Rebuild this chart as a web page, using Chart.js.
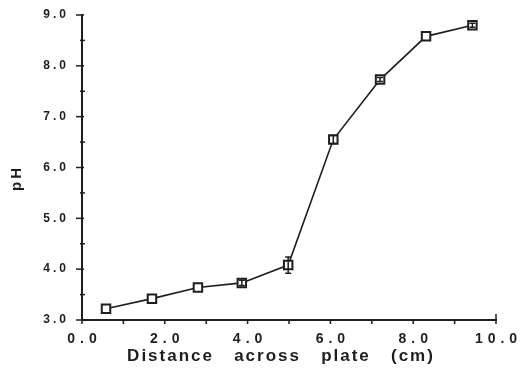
<!DOCTYPE html>
<html>
<head>
<meta charset="utf-8">
<script src="https://cdn.jsdelivr.net/npm/chart.js@4/dist/chart.umd.min.js"></script>
<style>
  html, body { margin: 0; padding: 0; background: #fff; }
  #wrap { width: 520px; height: 376px; }
</style>
</head>
<body>
<div id="wrap"><canvas id="c" width="520" height="376"></canvas></div>
<script>
// ---- data ----
const distanceCm = [0.58, 1.69, 2.8, 3.86, 4.98, 6.07, 7.2, 8.31, 9.43];
const phValues   = [3.22, 3.42, 3.64, 3.73, 4.08, 6.55, 7.73, 8.58, 8.8];
const phErrors   = [0, 0, 0, 0.05, 0.16, 0.08, 0.04, 0, 0.04];
const xTickValues = [0, 2, 4, 6, 8, 10];
const xTickLabels = ['0.0', '2.0', '4.0', '6.0', '8.0', '10.0'];
const yTickValues = [3, 4, 5, 6, 7, 8, 9];
const yTickLabels = ['3.0', '4.0', '5.0', '6.0', '7.0', '8.0', '9.0'];
const xTitle = 'Distance   across   plate   (cm)';
const yTitle = 'pH';

const INK = '#1e1e1e';

const axisDecor = {
  id: 'axisDecor',
  afterDatasetsDraw(chart) {
    const ctx = chart.ctx;
    const xs = chart.scales.x, ys = chart.scales.y;
    const ca = chart.chartArea;
    ctx.save();
    ctx.strokeStyle = INK;
    ctx.fillStyle = INK;

    // error bars
    ctx.lineWidth = 1.5;
    distanceCm.forEach((d, i) => {
      const e = phErrors[i];
      if (!e) return;
      const px = xs.getPixelForValue(d);
      const y1 = ys.getPixelForValue(phValues[i] + e);
      const y2 = ys.getPixelForValue(phValues[i] - e);
      ctx.beginPath();
      ctx.moveTo(px, y1); ctx.lineTo(px, y2);
      ctx.moveTo(px - 3, y1); ctx.lineTo(px + 3, y1);
      ctx.moveTo(px - 3, y2); ctx.lineTo(px + 3, y2);
      ctx.stroke();
    });

    // y ticks: majors outward, minors both sides
    ctx.lineWidth = 1.5;
    for (let v = 3; v <= 9.001; v += 0.5) {
      const py = ys.getPixelForValue(v);
      ctx.beginPath();
      if (Math.abs(v - Math.round(v)) < 1e-6) {
        ctx.moveTo(ca.left - 6, py); ctx.lineTo(ca.left + 2, py);
      } else {
        ctx.moveTo(ca.left - 2, py); ctx.lineTo(ca.left + 3, py);
      }
      ctx.stroke();
    }
    // x ticks
    for (let v = 0; v <= 10.001; v += 1) {
      const px = xs.getPixelForValue(v);
      ctx.beginPath();
      if (v === 10) { ctx.moveTo(px, ca.bottom - 6); ctx.lineTo(px, ca.bottom + 4); }
      else { ctx.moveTo(px, ca.bottom); ctx.lineTo(px, ca.bottom + 4); }
      ctx.stroke();
    }

    // x tick labels
    ctx.font = 'bold 14px "Liberation Sans", Arial, sans-serif';
    ctx.textAlign = 'center';
    ctx.textBaseline = 'middle';
    ctx.letterSpacing = '5px';
    xTickValues.forEach((v, i) => {
      ctx.fillText(xTickLabels[i], xs.getPixelForValue(v) + 2.5, ca.bottom + 19);
    });

    // y tick labels
    ctx.font = 'bold 12px "Liberation Sans", Arial, sans-serif';
    ctx.textAlign = 'right';
    ctx.letterSpacing = '3px';
    yTickValues.forEach((v, i) => {
      ctx.fillText(yTickLabels[i], ca.left - 13, ys.getPixelForValue(v));
    });

    // x title
    ctx.font = 'bold 17px "Liberation Sans", Arial, sans-serif';
    ctx.textAlign = 'center';
    ctx.letterSpacing = '2px';
    ctx.fillText(xTitle, (ca.left + ca.right) / 2 - 8, ca.bottom + 36);

    // y title
    ctx.translate(17, (ca.top + ca.bottom) / 2 + 12);
    ctx.rotate(-Math.PI / 2);
    ctx.font = 'bold 15px "Liberation Sans", Arial, sans-serif';
    ctx.letterSpacing = '3px';
    ctx.fillText(yTitle, 1.5, 0);
    ctx.restore();
  }
};

new Chart(document.getElementById('c'), {
  type: 'line',
  data: {
    datasets: [{
      data: distanceCm.map((d, i) => ({ x: d, y: phValues[i] })),
      borderColor: INK,
      borderWidth: 1.6,
      pointStyle: 'rect',
      pointRadius: 6,
      pointBorderWidth: 2,
      pointBackgroundColor: '#fff',
      pointBorderColor: INK,
      tension: 0
    }]
  },
  options: {
    responsive: false,
    animation: false,
    layout: { padding: { top: 15, right: 24, left: 0, bottom: 0 } },
    plugins: { legend: { display: false }, tooltip: { enabled: false } },
    scales: {
      x: {
        type: 'linear', min: 0, max: 10,
        grid: { display: false },
        border: { display: true, color: INK, width: 2 },
        ticks: { display: false },
        afterFit(s) { s.height = 56; }
      },
      y: {
        type: 'linear', min: 3, max: 9,
        grid: { display: false },
        border: { display: true, color: INK, width: 2 },
        ticks: { display: false },
        afterFit(s) { s.width = 82; }
      }
    }
  },
  plugins: [axisDecor]
});
</script>
</body>
</html>
